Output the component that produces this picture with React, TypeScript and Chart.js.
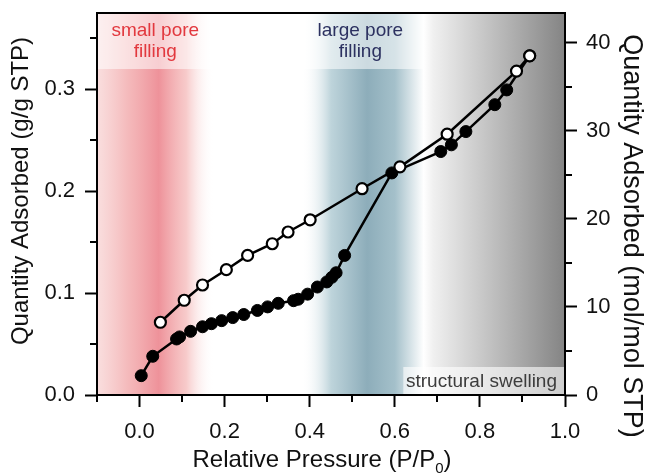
import React, { useEffect, useRef } from 'react';
import { Chart, registerables } from 'chart.js';

Chart.register(...registerables);

// ---- data (relative pressure, g/g STP) ----
const adsorptionP = [0.004, 0.031, 0.087, 0.094, 0.120, 0.148, 0.169, 0.193, 0.219, 0.245, 0.277, 0.301, 0.326, 0.362, 0.373, 0.395, 0.418, 0.440, 0.452, 0.462, 0.482, 0.593, 0.708, 0.733, 0.767, 0.835, 0.863, 0.917];
const adsorptionQ = [0.019, 0.038, 0.055, 0.057, 0.0625, 0.067, 0.070, 0.073, 0.076, 0.079, 0.083, 0.0865, 0.090, 0.0926, 0.094, 0.099, 0.106, 0.111, 0.1155, 0.120, 0.137, 0.218, 0.239, 0.2456, 0.2586, 0.285, 0.2995, 0.333];
const desorptionP = [0.917, 0.886, 0.723, 0.612, 0.523, 0.401, 0.349, 0.312, 0.254, 0.204, 0.148, 0.105, 0.049];
const desorptionQ = [0.333, 0.318, 0.256, 0.224, 0.2025, 0.172, 0.160, 0.1485, 0.137, 0.123, 0.108, 0.093, 0.0714];

// ---- ticks ----
const xMajorTicks = [0, 0.2, 0.4, 0.6, 0.8, 1.0];
const xMinorTicks = [-0.1, 0.1, 0.3, 0.5, 0.7, 0.9];
const leftMajorTicks = [0, 0.1, 0.2, 0.3];
const leftMinorTicks = [0.05, 0.15, 0.25, 0.35];
const rightMajorTicks = [0, 10, 20, 30, 40];
const rightMinorTicks = [5, 15, 25, 35];

// ---- region labels ----
const smallPoreLabel = ['small pore', 'filling'];
const largePoreLabel = ['large pore', 'filling'];
const swellingLabel = 'structural swelling';

const FONT = '"Liberation Sans", Arial, Helvetica, sans-serif';

const backgroundPlugin = {
  id: 'bands',
  beforeDraw(chart: any) {
    const { ctx, chartArea, scales } = chart;
    const x = scales.x;
    const y = scales.y;
    const top = chartArea.top;
    const bottom = chartArea.bottom;
    const h = bottom - top;
    ctx.save();
    ctx.fillStyle = '#ffffff';
    ctx.fillRect(chartArea.left, top, chartArea.right - chartArea.left, h);

    const band = (x0: number, x1: number, stops: [number, string][]) => {
      const p0 = x.getPixelForValue(x0);
      const p1 = x.getPixelForValue(x1);
      const g = ctx.createLinearGradient(p0, 0, p1, 0);
      stops.forEach(([v, c]) => g.addColorStop((v - x0) / (x1 - x0), c));
      ctx.fillStyle = g;
      ctx.fillRect(p0, top, p1 - p0, h);
      return [p0, p1];
    };

    const red = band(-0.1, 0.175, [
      [-0.1, 'rgba(244,190,190,0.5)'],
      [-0.03, 'rgba(242,170,172,0.8)'],
      [0.045, 'rgba(238,146,154,1)'],
      [0.11, 'rgba(244,180,180,0.7)'],
      [0.175, 'rgba(255,255,255,0)'],
    ]);
    const blue = band(0.38, 0.668, [
      [0.38, 'rgba(255,255,255,0)'],
      [0.45, 'rgba(190,212,219,1)'],
      [0.535, 'rgba(141,173,186,1)'],
      [0.6, 'rgba(164,192,202,1)'],
      [0.668, 'rgba(255,255,255,1)'],
    ]);
    band(0.668, 1.0, [
      [0.668, 'rgba(255,255,255,1)'],
      [0.69, 'rgba(240,240,240,1)'],
      [1.0, 'rgba(132,132,132,1)'],
    ]);

    // lighter label strips at top
    const stripBottom = y.getPixelForValue(0.32);
    ctx.fillStyle = 'rgba(255,255,255,0.55)';
    ctx.fillRect(red[0], top, red[1] - red[0], stripBottom - top);
    ctx.fillRect(blue[0], top, blue[1] - blue[0], stripBottom - top);

    // lighter box for swelling label
    const bx0 = x.getPixelForValue(0.62);
    const by0 = y.getPixelForValue(0.0275);
    ctx.fillStyle = 'rgba(255,255,255,0.6)';
    ctx.fillRect(bx0, by0, chartArea.right - bx0, bottom - by0);

    // labels
    ctx.font = `19px ${FONT}`;
    ctx.textAlign = 'center';
    ctx.textBaseline = 'middle';
    ctx.fillStyle = '#e2383e';
    const cxRed = x.getPixelForValue(0.037);
    ctx.fillText(smallPoreLabel[0], cxRed, top + 18);
    ctx.fillText(smallPoreLabel[1], cxRed, top + 39);
    ctx.fillStyle = '#2c3160';
    const cxBlue = x.getPixelForValue(0.519);
    ctx.fillText(largePoreLabel[0], cxBlue, top + 18);
    ctx.fillText(largePoreLabel[1], cxBlue, top + 39);
    ctx.fillStyle = '#3c3c3c';
    ctx.textAlign = 'right';
    ctx.fillText(swellingLabel, chartArea.right - 8, bottom - 13);
    ctx.restore();
  },
  afterDraw(chart: any) {
    const { ctx, chartArea, scales } = chart;
    ctx.save();
    ctx.strokeStyle = '#000';
    ctx.lineWidth = 2;
    // frame
    ctx.strokeRect(chartArea.left, chartArea.top, chartArea.right - chartArea.left, chartArea.bottom - chartArea.top);
    // minor ticks
    const minorLen = 7;
    ctx.beginPath();
    xMinorTicks.forEach((v) => {
      const p = Math.round(scales.x.getPixelForValue(v));
      ctx.moveTo(p, chartArea.bottom);
      ctx.lineTo(p, chartArea.bottom + minorLen);
    });
    leftMinorTicks.forEach((v) => {
      const p = Math.round(scales.y.getPixelForValue(v));
      ctx.moveTo(chartArea.left, p);
      ctx.lineTo(chartArea.left - minorLen, p);
    });
    rightMinorTicks.forEach((v) => {
      const p = Math.round(scales.y2.getPixelForValue(v));
      ctx.moveTo(chartArea.right, p);
      ctx.lineTo(chartArea.right + minorLen, p);
    });
    ctx.stroke();

    // axis titles
    ctx.fillStyle = '#111';
    ctx.textAlign = 'center';
    ctx.textBaseline = 'middle';
    ctx.save();
    ctx.font = `24px ${FONT}`;
    ctx.translate(21, 191);
    ctx.rotate(-Math.PI / 2);
    ctx.fillText('Quantity Adsorbed (g/g STP)', 0, 0);
    ctx.restore();
    ctx.save();
    ctx.font = `27px ${FONT}`;
    ctx.translate(631, 236);
    ctx.rotate(Math.PI / 2);
    ctx.fillText('Quantity Adsorbed (mol/mol STP)', 0, 0);
    ctx.restore();

    // x title with subscript
    const main = 'Relative Pressure (P/P';
    const sub = '0';
    const close = ')';
    ctx.font = `24px ${FONT}`;
    const wMain = ctx.measureText(main).width;
    const wClose = ctx.measureText(close).width;
    ctx.font = `15px ${FONT}`;
    const wSub = ctx.measureText(sub).width;
    const total = wMain + wSub + wClose;
    const cx = 322;
    let xx = cx - total / 2;
    const base = 467;
    ctx.textAlign = 'left';
    ctx.textBaseline = 'alphabetic';
    ctx.font = `24px ${FONT}`;
    ctx.fillText(main, xx, base);
    xx += wMain;
    ctx.font = `15px ${FONT}`;
    ctx.fillText(sub, xx, base + 6);
    xx += wSub;
    ctx.font = `24px ${FONT}`;
    ctx.fillText(close, xx, base);
    ctx.restore();
  },
};

const axisGrid = {
  drawOnChartArea: false,
  drawTicks: true,
  tickLength: 12,
  tickWidth: 2,
  tickColor: '#000',
};
const axisBorder = { display: true, color: '#000', width: 2 };

export default function App() {
  const ref = useRef<HTMLCanvasElement | null>(null);
  useEffect(() => {
    if (!ref.current) return;
    const chart = new Chart(ref.current, {
      type: 'line',
      data: {
        datasets: [
          {
            label: 'desorption',
            data: desorptionP.map((p, i) => ({ x: p, y: desorptionQ[i] })),
            borderColor: '#000',
            borderWidth: 2.5,
            pointRadius: 5.5,
            pointBackgroundColor: '#fff',
            pointBorderColor: '#000',
            pointBorderWidth: 2.2,
            order: 0,
            yAxisID: 'y',
          },
          {
            label: 'adsorption',
            data: adsorptionP.map((p, i) => ({ x: p, y: adsorptionQ[i] })),
            borderColor: '#000',
            borderWidth: 2.5,
            pointRadius: 6,
            pointBackgroundColor: '#000',
            pointBorderColor: '#000',
            pointBorderWidth: 1,
            order: 1,
            yAxisID: 'y',
          },
        ],
      },
      options: {
        responsive: false,
        animation: false,
        devicePixelRatio: 1,
        layout: { padding: { top: 13, left: 0, right: 0, bottom: 0 } },
        plugins: { legend: { display: false }, tooltip: { enabled: false }, title: { display: false } },
        elements: { line: { tension: 0 } },
        scales: {
          x: {
            type: 'linear',
            position: 'bottom',
            min: -0.1,
            max: 1.0,
            grid: axisGrid,
            border: axisBorder,
            afterBuildTicks: (s: any) => { s.ticks = xMajorTicks.map((v) => ({ value: v })); },
            afterFit: (s: any) => { s.height = 80; s.paddingLeft = 0; s.paddingRight = 0; },
            ticks: {
              color: '#111',
              font: { family: FONT, size: 22 },
              padding: 12,
              maxRotation: 0,
              callback: (v: any) => Number(v).toFixed(1),
            },
          },
          y: {
            type: 'linear',
            position: 'left',
            min: 0,
            max: 0.375,
            grid: axisGrid,
            border: axisBorder,
            afterBuildTicks: (s: any) => { s.ticks = leftMajorTicks.map((v) => ({ value: v })); },
            afterFit: (s: any) => { s.width = 97; s.paddingTop = 0; s.paddingBottom = 0; },
            ticks: {
              color: '#111',
              font: { family: FONT, size: 22 },
              padding: 10,
              callback: (v: any) => Number(v).toFixed(1),
            },
          },
          y2: {
            type: 'linear',
            position: 'right',
            min: 0,
            max: 43.4,
            grid: axisGrid,
            border: axisBorder,
            afterBuildTicks: (s: any) => { s.ticks = rightMajorTicks.map((v) => ({ value: v })); },
            afterFit: (s: any) => { s.width = 80; s.paddingTop = 0; s.paddingBottom = 0; },
            ticks: {
              color: '#111',
              font: { family: FONT, size: 22 },
              padding: 9,
              callback: (v: any) => String(Math.round(Number(v))),
            },
          },
        },
      },
      plugins: [backgroundPlugin],
    } as any);
    return () => chart.destroy();
  }, []);
  return (
    <div style={{ position: 'absolute', left: 0, top: 0, width: 645, height: 475, background: '#fff' }}>
      <canvas ref={ref} width={645} height={475} style={{ display: 'block', width: 645, height: 475 }} />
    </div>
  );
}
